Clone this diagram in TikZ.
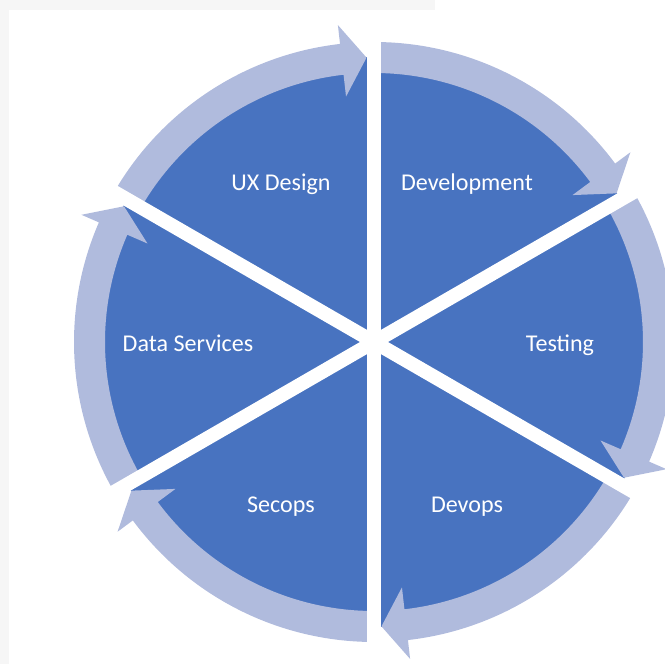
\documentclass[tikz,border=0pt]{standalone}
\usepackage{fontspec}
\setmainfont{Carlito}
\usetikzlibrary{positioning}

\definecolor{pieblue}{HTML}{4873C0}
\definecolor{ringblue}{HTML}{B0BBDD}
\definecolor{edgegray}{HTML}{F6F6F6}

\begin{document}
\begin{tikzpicture}[phase/.style={text=white, font=\fontsize{13.7}{16}\selectfont, text height=0.7em, text depth=0.22em, yshift=-0.1cm}, ring/.style={fill=ringblue}, gap/.style={white, line width=0.28cm}]
% frame
\useasboundingbox (-7.48,-6.44) rectangle (5.82,6.84);
\fill[edgegray] (-7.48,6.64) rectangle (1.22,6.84);
\fill[edgegray] (-7.48,-6.44) rectangle (-7.30,6.84);
\coordinate (c) at (0,0);

% pie
\fill[pieblue] (c) circle (5.7);

% arrows
\fill[ring] (90:6) arc[start angle=90, end angle=36.5, radius=6] -- (36.5:6.38) -- (31.5:5.69) -- (36.5:4.94) -- (36.5:5.38) arc[start angle=36.5, end angle=90, radius=5.38] -- cycle;
\fill[ring] (30:6) arc[start angle=30, end angle=-23.5, radius=6] -- (-23.5:6.38) -- (-28.5:5.69) -- (-23.5:4.94) -- (-23.5:5.38) arc[start angle=-23.5, end angle=30, radius=5.38] -- cycle;
\fill[ring] (-30:6) arc[start angle=-30, end angle=-83.5, radius=6] -- (-83.5:6.38) -- (-88.5:5.69) -- (-83.5:4.94) -- (-83.5:5.38) arc[start angle=-83.5, end angle=-30, radius=5.38] -- cycle;
\fill[ring] (-90:6) arc[start angle=-90, end angle=-143.5, radius=6] -- (-143.5:6.38) -- (-148.5:5.69) -- (-143.5:4.94) -- (-143.5:5.38) arc[start angle=-143.5, end angle=-90, radius=5.38] -- cycle;
\fill[ring] (-150:6) arc[start angle=-150, end angle=-203.5, radius=6] -- (-203.5:6.38) -- (-208.5:5.69) -- (-203.5:4.94) -- (-203.5:5.38) arc[start angle=-203.5, end angle=-150, radius=5.38] -- cycle;
\fill[ring] (-210:6) arc[start angle=-210, end angle=-263.5, radius=6] -- (-263.5:6.38) -- (-268.5:5.69) -- (-263.5:4.94) -- (-263.5:5.38) arc[start angle=-263.5, end angle=-210, radius=5.38] -- cycle;

% gaps
\draw[gap] (90:6.6) -- (c) -- (270:6.6);
\draw[gap] (30:6.6) -- (c) -- (210:6.6);
\draw[gap] (-30:6.6) -- (c) -- (150:6.6);

% phases
\node[phase] (ux) at (120:3.72) {UX Design};
\node[phase] (dev) at (60:3.72) {Development};
\node[phase] (test) at (0:3.72) {Testing};
\node[phase] (devops) at (-60:3.72) {Devops};
\node[phase] (secops) at (-120:3.72) {Secops};
\node[phase] (data) at (180:3.72) {Data Services};
\end{tikzpicture}
\end{document}
